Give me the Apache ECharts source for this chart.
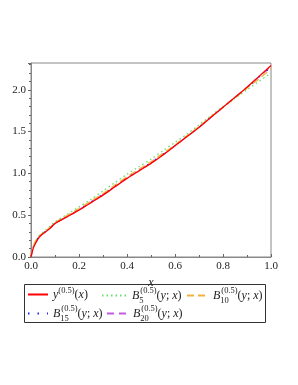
<!DOCTYPE html>
<html>
<head>
<meta charset="utf-8">
<script src="https://cdn.jsdelivr.net/npm/echarts@6/dist/echarts.min.js"></script>
<style>html,body{margin:0;padding:0;background:#fff;}#c{width:298px;height:385px;}</style>
</head>
<body>
<div id="c"></div>
<script>
const xs = [0, 0.01, 0.02, 0.03, 0.04, 0.06, 0.08, 0.1, 0.15, 0.2, 0.25, 0.3, 0.35, 0.4, 0.45, 0.5, 0.55, 0.6, 0.65, 0.7, 0.75, 0.8, 0.85, 0.9, 0.95, 1.0];
const yExact = [0, 0.11, 0.17, 0.22, 0.255, 0.30, 0.345, 0.40, 0.48, 0.56, 0.65, 0.74, 0.84, 0.94, 1.03, 1.12, 1.22, 1.33, 1.44, 1.55, 1.67, 1.79, 1.91, 2.03, 2.16, 2.29];
const yB5 = [0, 0.12, 0.19, 0.24, 0.27, 0.32, 0.37, 0.42, 0.51, 0.60, 0.69, 0.79, 0.89, 0.99, 1.08, 1.17, 1.27, 1.37, 1.47, 1.58, 1.69, 1.80, 1.90, 2.00, 2.10, 2.20];
const yB10 = [0, 0.13, 0.20, 0.24, 0.265, 0.31, 0.355, 0.41, 0.495, 0.58, 0.67, 0.76, 0.86, 0.96, 1.05, 1.14, 1.24, 1.34, 1.45, 1.56, 1.68, 1.79, 1.90, 2.02, 2.13, 2.25];
const yB15 = [0, 0.12, 0.185, 0.23, 0.26, 0.305, 0.35, 0.405, 0.487, 0.57, 0.66, 0.75, 0.85, 0.95, 1.04, 1.13, 1.23, 1.335, 1.445, 1.555, 1.675, 1.79, 1.905, 2.025, 2.15, 2.27];
const yB20 = [0, 0.115, 0.175, 0.225, 0.257, 0.302, 0.347, 0.402, 0.483, 0.565, 0.655, 0.745, 0.845, 0.945, 1.035, 1.125, 1.225, 1.332, 1.442, 1.552, 1.672, 1.79, 1.91, 2.03, 2.155, 2.28];
const yTicks = [0, 0.5, 1.0, 1.5, 2.0];
const xTicks = [0, 0.2, 0.4, 0.6, 0.8, 1.0];

const names = ['y', 'B5', 'B10', 'B15', 'B20'];
const colors = ['#ff0000', '#66e066', '#f2b13c', '#2222ff', '#c35ce0'];
const dashes = ['solid', [1.5, 3], [7, 4], [1.5, 8], [7, 5]];
const datas = [yExact, yB5, yB10, yB15, yB20];

const serif = 'Liberation Serif';
const rich = {
  i: {fontFamily: serif, fontStyle: 'italic', fontSize: 12, color: '#222', verticalAlign: 'middle'},
  n: {fontFamily: serif, fontSize: 12, color: '#222'},
  sub: {fontFamily: serif, fontSize: 8.5, color: '#222', verticalAlign: 'bottom', width: 1, padding: [10, 0, 0, 0]},
  sup2: {fontFamily: serif, fontSize: 8.5, color: '#222', verticalAlign: 'top', padding: [0, 0, 8, 0]}
};
function fmt(name) {
  if (name === 'y') return '{i|y}{sup2|(0.5)}{n|(}{i|x}{n|)}';
  const k = name.slice(1);
  return '{i|B}{sub|' + k + '}{sup2|(0.5)}{n|(}{i|y}{n|; }{i|x}{n|)}';
}

const series = names.map((n, i) => ({
  name: n,
  type: 'line',
  data: xs.map((x, j) => [x, datas[i][j]]),
  showSymbol: false,
  symbol: 'none',
  smooth: 0.3,
  lineStyle: {color: colors[i], width: 1.3, type: dashes[i]},
  itemStyle: {color: colors[i]},
  z: 10 - i,
  animation: false
}));

// [left, top, iconWidth]
const legendPos = [[27, 286, 20], [101, 286, 25], [186, 286, 21], [27, 304, 20], [106, 304, 21]];
const legends = names.map((n, i) => ({
  data: [n], left: legendPos[i][0], top: legendPos[i][1], padding: 0,
  itemWidth: legendPos[i][2], itemHeight: 10,
  itemStyle: {opacity: 0},
  formatter: fmt, textStyle: {rich: rich}, selectedMode: false
}));

const chart = echarts.init(document.getElementById('c'), null, {renderer: 'canvas'});
chart.setOption({
  animation: false,
  grid: {left: 31, right: 27, top: 63, bottom: 128, show: true, borderColor: '#888', borderWidth: 1},
  xAxis: {
    type: 'value', min: 0, max: 1, interval: 0.2,
    name: 'x', nameLocation: 'middle', nameGap: 12,
    nameTextStyle: {fontFamily: serif, fontStyle: 'italic', fontSize: 12, color: '#222'},
    axisLine: {lineStyle: {color: '#888', width: 1}},
    axisTick: {inside: true, length: 3, lineStyle: {color: '#666'}},
    minorTick: {show: true, splitNumber: 2, length: 2, lineStyle: {color: '#666'}},
    splitLine: {show: false},
    axisLabel: {fontFamily: serif, fontSize: 11, color: '#222', margin: 4,
      formatter: v => v.toFixed(1)}
  },
  yAxis: {
    type: 'value', min: 0, max: 2.32, interval: 0.5,
    axisLine: {show: true, lineStyle: {color: '#888', width: 1}},
    axisTick: {show: true, inside: false, length: 3, lineStyle: {color: '#666'}},
    minorTick: {show: true, splitNumber: 5, length: 2, lineStyle: {color: '#666'}},
    splitLine: {show: false},
    axisLabel: {fontFamily: serif, fontSize: 11, color: '#222', margin: 5, showMaxLabel: false,
      formatter: v => v.toFixed(1)}
  },
  legend: legends,
  graphic: [{
    type: 'rect', shape: {x: 24.5, y: 284.5, width: 241, height: 38},
    style: {fill: 'none', stroke: '#333', lineWidth: 1}, silent: true
  }],
  series: series
});
</script>
</body>
</html>
